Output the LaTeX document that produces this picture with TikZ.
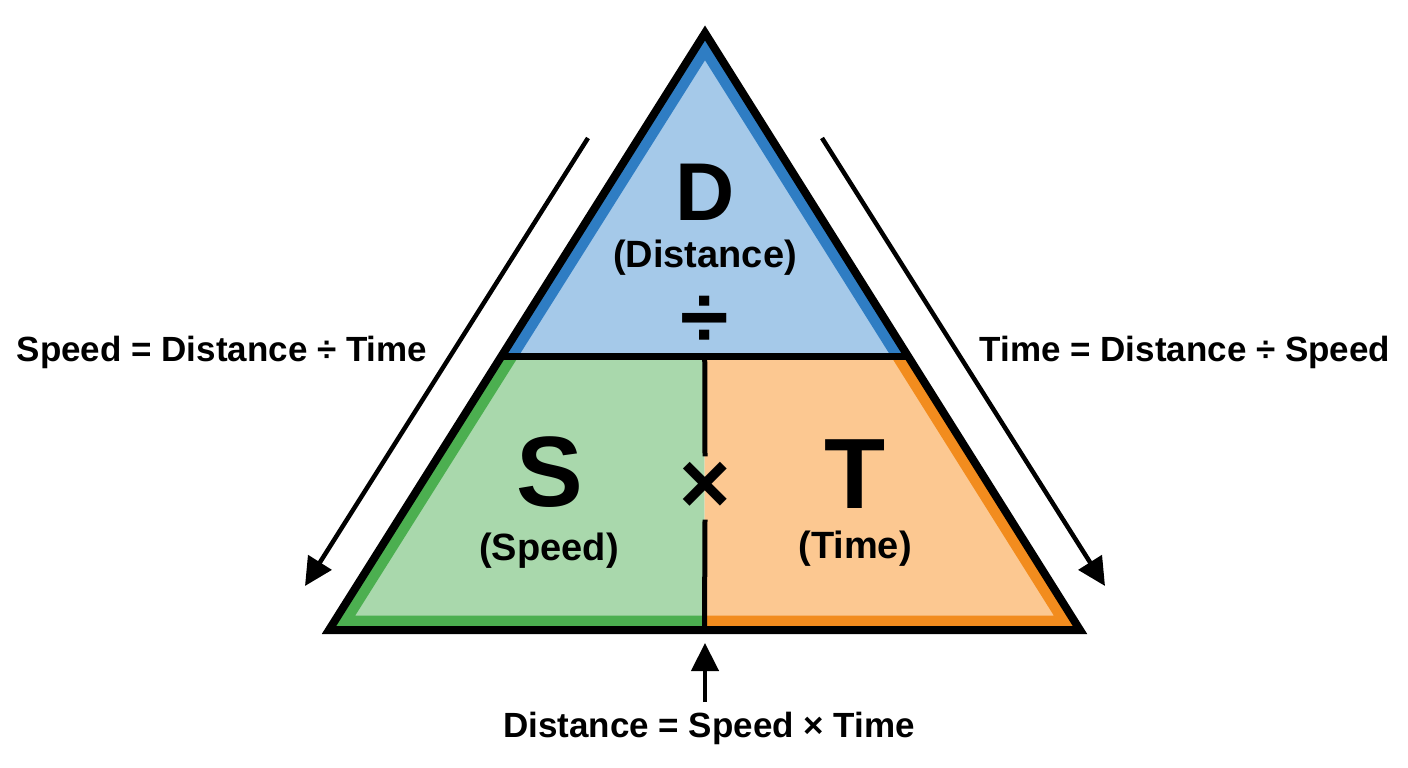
\documentclass[tikz,border=0pt]{standalone}
\usepackage{fontspec}
\setmainfont{Liberation Sans}
\usetikzlibrary{calc,arrows.meta}

\definecolor{dblue}{HTML}{2F7DC3}
\definecolor{lblue}{HTML}{A5C9E9}
\definecolor{dgreen}{HTML}{4CAF50}
\definecolor{lgreen}{HTML}{A9D8AC}
\definecolor{dorange}{HTML}{F28C1E}
\definecolor{lorange}{HTML}{FCC891}

\begin{document}
\begin{tikzpicture}[x=1pt,y=-1pt,
	letter/.style={font=\fontsize{100}{100}\selectfont\bfseries,inner sep=0pt},
	word/.style={font=\fontsize{38}{40}\selectfont\bfseries,inner sep=0pt},
	rule/.style={font=\fontsize{35}{40}\selectfont\bfseries,inner sep=0pt},
	sign/.style={font=\fontsize{88}{88}\selectfont\bfseries,inner sep=0pt},
	band/.style={line width=29pt,line join=miter},
	flow/.style={line width=4.5pt,-{Triangle[length=28pt,width=27pt]}}]
	\useasboundingbox (0,0) rectangle (1408,768);

	\coordinate (apex) at (705,33);
	\coordinate (lb) at (329,630);
	\coordinate (rb) at (1080,630);
	\coordinate (ml) at ($(apex)!0.5427!(lb)$);
	\coordinate (mr) at ($(apex)!0.5427!(rb)$);
	\coordinate (mt) at ($(ml)!0.5!(mr)$);
	\coordinate (mb) at ($(lb)!0.5!(rb)$);

	\fill[lblue] (apex) -- (ml) -- (mr) -- cycle;
	\fill[lgreen] (ml) -- (mt) -- (mb) -- (lb) -- cycle;
	\fill[lorange] (mt) -- (mr) -- (rb) -- (mb) -- cycle;
	\begin{scope}
		\clip (apex) -- (ml) -- (mr) -- cycle;
		\draw[band,dblue] (apex) -- (lb) -- (rb) -- cycle;
	\end{scope}
	\begin{scope}
		\clip (ml) -- (mt) -- (mb) -- (lb) -- cycle;
		\draw[band,dgreen] (apex) -- (lb) -- (rb) -- cycle;
	\end{scope}
	\begin{scope}
		\clip (mt) -- (mr) -- (rb) -- (mb) -- cycle;
		\draw[band,dorange] (apex) -- (lb) -- (rb) -- cycle;
	\end{scope}
	\draw[line width=8pt,line join=miter] (apex) -- (lb) -- (rb) -- cycle;
	\draw[line width=7pt] (ml) -- (mr);

	\node[letter,font=\fontsize{82}{82}\selectfont\bfseries] (d) at (705,192) {D};
	\node[word] (dname) at (705,258) {(Distance)};
	\node[sign] (div) at (705,322) {÷};
	\node[letter] (s) at (550,472) {S};
	\node[word] (sname) at (549,551) {(Speed)};
	\node[letter] (t) at (855,474) {T};
	\node[word] (tname) at (855,549) {(Time)};
	\node[sign,minimum height=63pt] (times) at (705,488) {×};

	\draw[line width=5pt] (mt) -- (times.north);
	\draw[line width=5pt] (times.south) -- (mb);

	\node[rule] (speedrule) at (222,352) {Speed = Distance ÷ Time};
	\node[rule] (timerule) at (1185,352) {Time = Distance ÷ Speed};
	\node[rule] (distrule) at (709,728) {Distance = Speed × Time};

	\coordinate (la) at (588,138);
	\coordinate (lz) at (305,586);
	\coordinate (ra) at (822,138);
	\coordinate (rz) at (1105,586);
	\coordinate (ba) at (705,702);
	\coordinate (bz) at (705,643);
	\draw[flow] (la) -- (lz);
	\draw[flow] (ra) -- (rz);
	\draw[flow] (ba) -- (bz);
\end{tikzpicture}
\end{document}
